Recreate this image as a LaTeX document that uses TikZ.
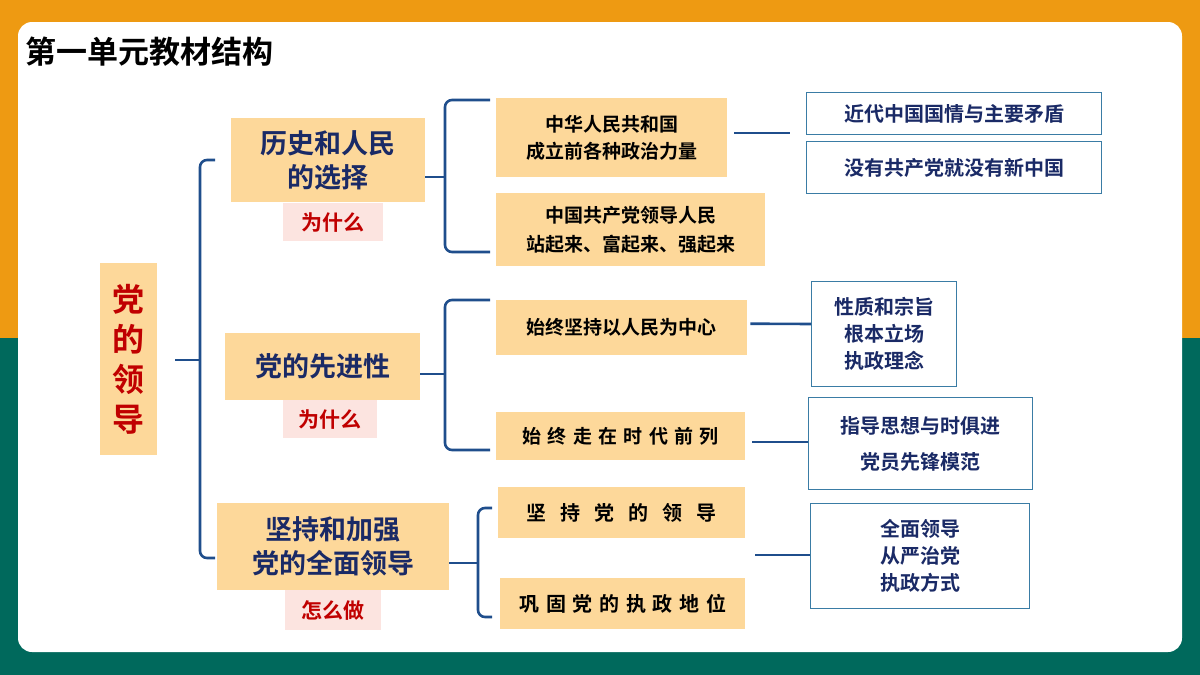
\documentclass[tikz,border=0pt]{standalone}
\usepackage{fontspec}
\setmainfont{Noto Sans CJK SC}[BoldFont={* Bold}]
\definecolor{org}{HTML}{EE9A12}
\definecolor{teal}{HTML}{00695C}
\definecolor{tan}{HTML}{FDD89A}
\definecolor{pinkf}{HTML}{FCE4E0}
\definecolor{navy}{HTML}{1A2A66}
\definecolor{brk}{HTML}{1F4E8C}
\definecolor{obord}{HTML}{3A7CA5}
\definecolor{redt}{HTML}{C00000}
\begin{document}
\begin{tikzpicture}[x=1pt,y=-1pt,
  tanbox/.style={fill=tan,inner sep=0,anchor=north west,font=\bfseries,align=center},
  pinkbox/.style={fill=pinkf,inner sep=0,anchor=north west,font=\bfseries\fontsize{21}{24}\selectfont,text=redt},
  obox/.style={draw=obord,line width=1.2pt,fill=white,inner sep=0,anchor=north west,font=\bfseries\fontsize{20}{27}\selectfont,text=navy,align=center},
  brack/.style={draw=brk,line width=2.6pt,rounded corners=7pt},
  conn/.style={draw=brk,line width=2.6pt}]
\useasboundingbox (0,0) rectangle (1200,675);
\fill[org] (0,0) rectangle (1200,338);
\fill[teal] (0,338) rectangle (1200,675);
\fill[white,rounded corners=14pt] (18,22) rectangle (1182,652);
\node[anchor=west,font=\bfseries\fontsize{31}{34}\selectfont] (title) at (22,52) {第一单元教材结构};
% root
\node[tanbox,minimum width=57,minimum height=192,text=redt,font=\bfseries\fontsize{32}{40}\selectfont] (root) at (100,263) {党\\的\\领\\导};
% level 1
\node[tanbox,minimum width=194,minimum height=84,text=navy,font=\bfseries\fontsize{27}{34}\selectfont] (a) at (231,118) {历史和人民\\的选择};
\node[pinkbox,minimum width=100,minimum height=38] (aw) at (283,203) {为什么};
\node[tanbox,minimum width=195,minimum height=67,text=navy,font=\bfseries\fontsize{27}{34}\selectfont] (b) at (225,333) {党的先进性};
\node[pinkbox,minimum width=94,minimum height=38] (bw) at (283,400) {为什么};
\node[tanbox,minimum width=232,minimum height=87,text=navy,font=\bfseries\fontsize{27}{34}\selectfont] (c) at (217,503) {坚持和加强\\党的全面领导};
\node[pinkbox,minimum width=96,minimum height=40] (cw) at (285,590) {怎么做};
% main bracket
\coordinate (m0) at (175,360);
\draw[brack] (215,160) -- (200,160) -- (200,558) -- (215,558);
\draw[conn] (m0) -- (200,360);
% level 2
\node[tanbox,minimum width=231,minimum height=79,font=\bfseries\fontsize{19}{27}\selectfont] (a1) at (496,98) {中华人民共和国\\成立前各种政治力量};
\node[tanbox,minimum width=269,minimum height=73,font=\bfseries\fontsize{19}{29}\selectfont] (a2) at (496,193) {中国共产党领导人民\\站起来、富起来、强起来};
\node[tanbox,minimum width=251,minimum height=55,font=\bfseries\fontsize{19}{24}\selectfont] (b1) at (496,300) {始终坚持以人民为中心};
\node[tanbox,minimum width=249,minimum height=48,font=\bfseries\fontsize{19}{24}\selectfont] (b2) at (496,412) {始\,\,终\,\,走\,\,在\,\,时\,\,代\,\,前\,\,列};
\node[tanbox,minimum width=247,minimum height=51,font=\bfseries\fontsize{20}{24}\selectfont] (c1) at (498,487) {坚\hspace{14pt}持\hspace{14pt}党\hspace{14pt}的\hspace{14pt}领\hspace{14pt}导};
\node[tanbox,minimum width=245,minimum height=51,font=\bfseries\fontsize{20}{24}\selectfont] (c2) at (500,578) {巩\,\,固\,\,党\,\,的\,\,执\,\,政\,\,地\,\,位};
% sub brackets
\draw[brack] (490,100) -- (445,100) -- (445,252) -- (490,252);
\draw[conn] (a.east |- 0,177) -- (445,177);
\draw[brack] (490,300) -- (445,300) -- (445,450) -- (490,450);
\draw[conn] (b.east |- 0,374) -- (445,374);
\draw[brack] (492,508) -- (478,508) -- (478,617) -- (492,617);
\draw[conn] (c.east |- 0,563) -- (478,563);
% level 3
\node[obox,minimum width=295,minimum height=42] (d1) at (806,92) {近代中国国情与主要矛盾};
\node[obox,minimum width=295,minimum height=52] (d2) at (806,141) {没有共产党就没有新中国};
\node[obox,minimum width=145,minimum height=105] (e1) at (811,281) {性质和宗旨\\根本立场\\执政理念};
\node[obox,minimum width=224,minimum height=92,font=\bfseries\fontsize{20}{36}\selectfont] (e2) at (808,397) {指导思想与时俱进\\党员先锋模范};
\node[obox,minimum width=219,minimum height=105] (f1) at (810,503) {全面领导\\从严治党\\执政方式};
\coordinate (l1) at (790,133);
\draw[conn] (734,133) -- (l1);
\draw[conn] (b1.east) ++(3,-4) -- (e1.west |- 0,324);
\draw[conn] (752,442) -- (e2.west |- 0,442);
\draw[conn] (755,555) -- (f1.west |- 0,555);
\end{tikzpicture}
\end{document}
